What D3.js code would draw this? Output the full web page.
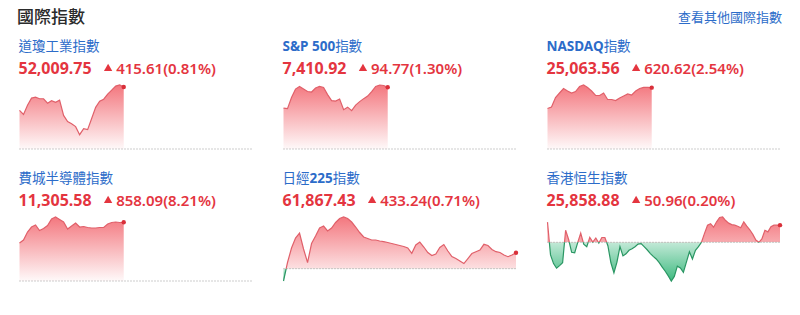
<!DOCTYPE html>
<meta charset="utf-8">
<style>

    body { margin: 0; background: #fff; }
    svg { display: block; font-family: "Noto Sans CJK TC", "Noto Sans", sans-serif; }

</style>
<svg width="800" height="315"></svg>
<script src="https://d3js.org/d3.v7.min.js"></script>
<script>

    // 指數名稱與報價
    var names = ["道瓊工業指數", "S&P 500指數", "NASDAQ指數", "費城半導體指數", "日經225指數", "香港恒生指數"];
    var prices = ["52,009.75", "7,410.92", "25,063.56", "11,305.58", "61,867.43", "25,858.88"];
    var changes = ["415.61", "94.77", "620.62", "858.09", "433.24", "50.96"];
    var pcts = ["0.81%", "1.30%", "2.54%", "8.21%", "0.71%", "0.20%"];
    var prevCloses = [51594.14, 7316.15, 24442.94, 10447.49, 61434.19, 25807.92];
    var slots = [59, 59, 59, 59, 59, 78];

    // 走勢 (盤中)
    var dow = [51853, 51826, 51887, 51935, 51941, 51931, 51931, 51901, 51918, 51907,
        51921, 51819, 51778, 51764, 51744, 51690, 51730, 51724, 51798, 51873,
        51914, 51928, 51962, 51989, 52016, 52023, 52009.75];
    var spx = [7378.8, 7378.0, 7395.0, 7408.1, 7412.0, 7408.1, 7404.3, 7403.5, 7409.7, 7412.0,
        7410.5, 7399.6, 7390.4, 7389.6, 7392.7, 7376.4, 7380.3, 7374.9, 7383.4, 7388.8,
        7393.4, 7397.3, 7404.3, 7412.0, 7414.3, 7413.5, 7410.92];
    var nasdaq = [24852.8, 24867.9, 24964.1, 25009.7, 25055.2, 25029.9, 25009.7, 25024.8, 25075.4, 25090.6,
        25065.3, 25029.9, 24984.4, 24984.4, 25009.7, 24943.9, 24943.9, 24933.7, 24959.0, 24979.3,
        24999.5, 24989.4, 25029.9, 25055.2, 25067.3, 25067.3, 25063.56];
    var sox = [11003.1, 11046.9, 11163.9, 11237.0, 11266.2, 11185.8, 11215.1, 11258.9, 11353.9, 11383.2,
        11346.6, 11310.1, 11207.7, 11251.6, 11295.5, 11237.0, 11244.3, 11229.7, 11222.4, 11222.4,
        11229.7, 11229.7, 11280.8, 11302.8, 11310.1, 11302.8, 11305.58];
    var nikkei = [61100.9, 61602.2, 61995.2, 62266.2, 62401.7, 61968.1, 61602.2, 62117.1, 62320.4, 62537.2,
        62591.4, 62455.9, 62537.2, 62686.2, 62794.6, 62835.3, 62794.6, 62699.8, 62564.3, 62415.2,
        62293.3, 62252.6, 62212.0, 62212.0, 62184.9, 62165.9, 62144.2, 62117.1, 62090.0, 62062.9,
        62035.8, 61995.2, 61851.5, 62076.5, 62157.8, 62022.3, 61873.2, 61791.9, 61832.6, 62008.7,
        62090.0, 61913.9, 61764.8, 61710.6, 61642.9, 61575.1, 61710.6, 61846.1, 61894.9, 61941.0,
        62095.4, 62062.9, 61954.5, 61894.9, 61873.2, 61805.5, 61759.4, 61805.5, 61867.43];
    var hsi = [25868.0, 25770.4, 25744.5, 25730.7, 25738.4, 25746.9, 25843.6, 25816.1, 25778.0, 25776.5,
        25807.0, 25835.4, 25802.4, 25794.8, 25822.2, 25808.5, 25820.7, 25805.5, 25822.2, 25822.2,
        25797.8, 25746.9, 25717.0, 25749.0, 25794.8, 25767.3, 25773.4, 25784.1, 25788.7, 25794.8,
        25802.4, 25803.9, 25794.8, 25785.6, 25775.0, 25765.8, 25758.2, 25747.5, 25733.8, 25721.6,
        25707.9, 25692.6, 25706.3, 25736.8, 25731.6, 25718.5, 25749.0, 25779.5, 25758.2, 25784.1,
        25794.8, 25807.9, 25834.4, 25858.8, 25863.4, 25852.7, 25868.9, 25881.7, 25883.2, 25872.6,
        25864.9, 25860.4, 25858.8, 25855.8, 25851.2, 25868.9, 25855.8, 25845.1, 25831.4, 25814.6,
        25807.9, 25817.7, 25843.6, 25839.0, 25854.3, 25858.8, 25858.8, 25858.88];

    var series = [dow, spx, nasdaq, sox, nikkei, hsi];

    var svg = d3.select("svg");
    var defs = svg.append("defs");

    var RED = "#e4353f", BLUE = "#2c6cc9";

    svg.append("text")
        .attr("x", 17).attr("y", 22.5)
        .attr("font-size", 17).attr("font-weight", 500)
        .attr("fill", "#2b2b2b")
        .text("國際指數");

    svg.append("text")
        .attr("x", 782).attr("y", 22)
        .attr("text-anchor", "end")
        .attr("font-size", 13)
        .attr("fill", BLUE)
        .text("查看其他國際指數");

    var colX = [19.5, 283.5, 547.5],
        rowY = [0, 132],
        plotW = 232.5;

    series.forEach(function(data, i) {
        var left = colX[i % 3],
            dy = rowY[Math.floor(i / 3)],
            top = 85 + dy,
            bottom = 149 + dy,
            prev = prevCloses[i];

        var g = svg.append("g");

        // 名稱: 英數字粗體
        var name = g.append("text")
            .attr("x", left - 1).attr("y", 51 + dy)
            .attr("font-size", 13.5)
            .attr("fill", BLUE);
        names[i].match(/[\u4e00-\u9fff]+|[^\u4e00-\u9fff]+/g).forEach(function(part) {
            var cjk = /[\u4e00-\u9fff]/.test(part);
            name.append("tspan")
                .attr("font-weight", cjk ? 400 : 700)
                .attr("font-family", cjk ? "Noto Sans CJK TC" : "Noto Sans")
                .text(part);
        });

        var price = g.append("text")
            .attr("x", left - 1).attr("y", 74 + dy)
            .attr("font-family", "Noto Sans")
            .attr("font-size", 16).attr("font-weight", 700)
            .attr("fill", RED)
            .text(prices[i]);

        var px = left - 1 + price.node().getComputedTextLength() + 16.5;
        g.append("path")
            .attr("d", d3.symbol(d3.symbolTriangle, 30)())
            .attr("transform", "translate(" + px + "," + (68.6 + dy) + ")")
            .attr("fill", RED);

        g.append("text")
            .attr("x", px + 8).attr("y", 74 + dy)
            .attr("font-family", "Noto Sans")
            .attr("font-size", 15).attr("font-weight", 600)
            .attr("fill", RED)
            .text(changes[i] + "(" + pcts[i] + ")");

        // 走勢圖
        var x = d3.scaleLinear()
            .domain([0, slots[i] - 1])
            .range([left, left + plotW]);

        var y = d3.scaleLinear()
            .domain(d3.extent(data.concat([prev])))
            .range([bottom, top]);

        var base = y(prev);

        var gradUp = defs.append("linearGradient")
            .attr("id", "up" + i)
            .attr("gradientUnits", "userSpaceOnUse")
            .attr("x1", 0).attr("x2", 0).attr("y1", top).attr("y2", bottom);
        gradUp.append("stop").attr("offset", 0).attr("stop-color", "#f26870").attr("stop-opacity", 0.9);
        gradUp.append("stop").attr("offset", 1).attr("stop-color", "#f26870").attr("stop-opacity", 0.04);

        var gradDown = defs.append("linearGradient")
            .attr("id", "down" + i)
            .attr("gradientUnits", "userSpaceOnUse")
            .attr("x1", 0).attr("x2", 0).attr("y1", bottom).attr("y2", base);
        gradDown.append("stop").attr("offset", 0).attr("stop-color", "#34b679").attr("stop-opacity", 0.95);
        gradDown.append("stop").attr("offset", 1).attr("stop-color", "#34b679").attr("stop-opacity", 0.3);

        defs.append("clipPath").attr("id", "clipUp" + i)
            .append("rect")
            .attr("x", left - 2).attr("y", top - 5)
            .attr("width", plotW + 4).attr("height", base - top + 5);
        defs.append("clipPath").attr("id", "clipDown" + i)
            .append("rect")
            .attr("x", left - 2).attr("y", base)
            .attr("width", plotW + 4).attr("height", bottom - base + 5);

        var area = d3.area()
            .x(function(d, j) { return x(j); })
            .y0(base)
            .y1(function(d) { return y(d); });

        var line = d3.line()
            .x(function(d, j) { return x(j); })
            .y(function(d) { return y(d); });

        g.append("path").datum(data)
            .attr("clip-path", "url(#clipUp" + i + ")")
            .attr("fill", "url(#up" + i + ")")
            .attr("d", area);
        g.append("path").datum(data)
            .attr("clip-path", "url(#clipDown" + i + ")")
            .attr("fill", "url(#down" + i + ")")
            .attr("d", area);

        g.append("line")
            .attr("x1", left).attr("x2", left + plotW)
            .attr("y1", base).attr("y2", base)
            .attr("stroke", "#9a9a9a")
            .attr("stroke-width", 1)
            .attr("stroke-dasharray", "1,2");

        g.append("path").datum(data)
            .attr("clip-path", "url(#clipUp" + i + ")")
            .attr("fill", "none")
            .attr("stroke", "#e0606a")
            .attr("stroke-width", 1.2)
            .attr("d", line);
        g.append("path").datum(data)
            .attr("clip-path", "url(#clipDown" + i + ")")
            .attr("fill", "none")
            .attr("stroke", "#2a9663")
            .attr("stroke-width", 1.2)
            .attr("d", line);

        var last = data.length - 1;
        g.append("circle")
            .attr("cx", x(last)).attr("cy", y(data[last]))
            .attr("r", 2.2)
            .attr("fill", "#d9303a");
    });

</script>
